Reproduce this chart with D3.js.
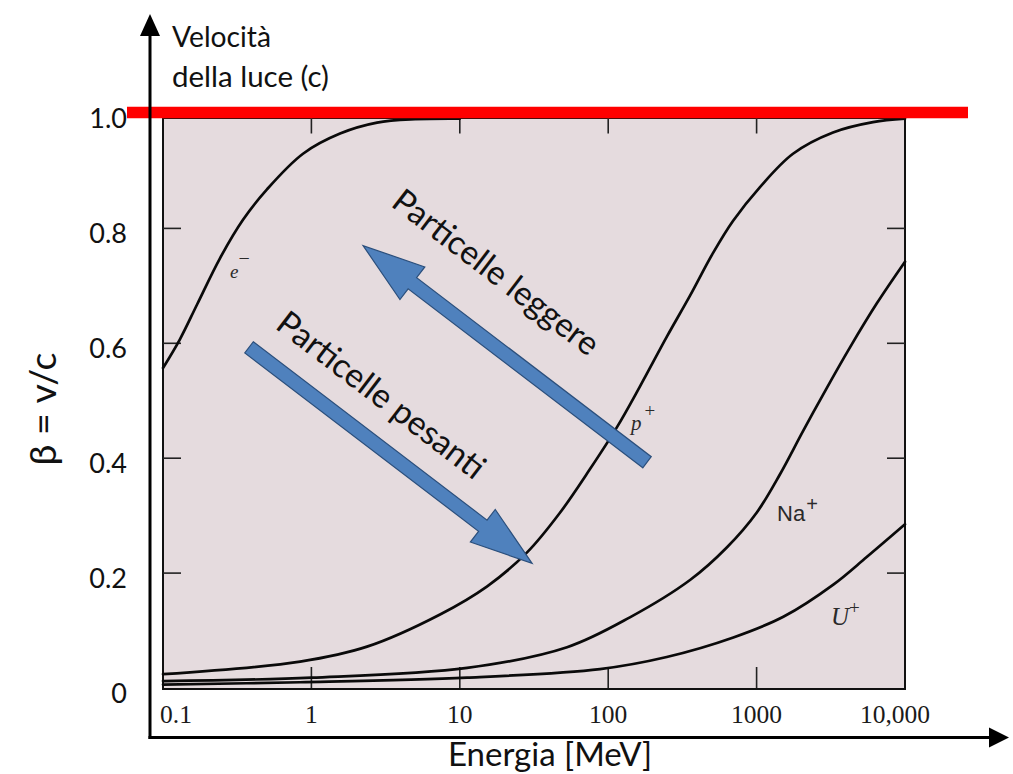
<!DOCTYPE html>
<html><head><meta charset="utf-8">
<script src="https://cdn.jsdelivr.net/npm/d3@7"></script>
<style>html,body{margin:0;padding:0;background:#fff;}svg{display:block;}</style>
</head><body>
<svg id="chart" width="1013" height="774"></svg>
<script>
// ---- data (kinetic energy in MeV, beta = v/c) ----
const eEnergy  = [0.1, 0.13, 0.17, 0.242, 0.346, 0.502, 0.878, 1.56, 2.77, 5, 10];
const eBeta    = [0.557, 0.607, 0.668, 0.748, 0.815, 0.868, 0.930, 0.965, 0.984, 0.990, 0.991];
const pEnergy  = [0.1, 0.84, 2.37, 7.36, 15.3, 28.4, 47.3, 75.4, 114.6, 163.8, 249, 356, 508, 693, 1054, 1759, 3273, 6087, 10000];
const pBeta    = [0.024, 0.046, 0.072, 0.128, 0.177, 0.236, 0.305, 0.381, 0.454, 0.525, 0.612, 0.683, 0.757, 0.813, 0.872, 0.930, 0.967, 0.985, 0.991];
const naEnergy = [0.1, 1, 11.2, 52.8, 140, 356, 632, 1006, 1438, 2055, 2982, 4260, 6477, 10000];
const naBeta   = [0.012, 0.018, 0.035, 0.071, 0.123, 0.188, 0.245, 0.306, 0.372, 0.447, 0.523, 0.593, 0.670, 0.742];
const uEnergy  = [0.1, 0.84, 11.2, 88, 248, 697, 1514, 3289, 5520, 10000];
const uBeta    = [0.006, 0.010, 0.018, 0.033, 0.054, 0.088, 0.124, 0.180, 0.228, 0.285];

const xTickValues = [0.1, 1, 10, 100, 1000, 10000];
const xTickLabels = ["0.1", "1", "10", "100", "1000", "10,000"];
const yTickValues = [0, 0.2, 0.4, 0.6, 0.8, 1.0];
const yTickLabels = ["0", "0.2", "0.4", "0.6", "0.8", "1.0"];
const innerXTicks = [1, 10, 100, 1000];
const innerYTicks = [0.2, 0.4, 0.6, 0.8];

const curveNames = ["e", "p", "Na", "U"];
// annotation arrows in data space: [E, beta] of tail and tip
const arrowLight = [[182.6, 0.393], [2.23, 0.770]];
const arrowHeavy = [[0.38, 0.593], [30.7, 0.217]];

// ---- scales ----
const svg = d3.select("#chart");
const x = d3.scaleLog().domain([0.1, 10000]).range([163, 905]);
const y = d3.scaleLinear().domain([0, 1]).range([688, 113.5]);

const SANS = "Lato, 'Open Sans', sans-serif";
const SERIF = "'Liberation Serif', 'DejaVu Serif', serif";

function fit(sel, w) {
  const l = sel.node().getComputedTextLength();
  const fs = parseFloat(sel.attr("font-size"));
  sel.attr("font-size", (fs * w / l).toFixed(2));
  return sel;
}

// ---- plot background / frame ----
svg.append("rect")
  .attr("x", x(0.1)).attr("y", y(1) + 4.5)
  .attr("width", x(10000) - x(0.1)).attr("height", y(0) + 1 - (y(1) + 4.5))
  .attr("fill", "#e5dbde").attr("stroke", "#111").attr("stroke-width", 2);

const inner = svg.append("g").attr("stroke", "#222").attr("stroke-width", 1.6);
innerYTicks.forEach(v => {
  inner.append("line").attr("x1", x(0.1)).attr("x2", x(0.1) + 18).attr("y1", y(v)).attr("y2", y(v));
  inner.append("line").attr("x1", x(10000)).attr("x2", x(10000) - 18).attr("y1", y(v)).attr("y2", y(v));
});
innerXTicks.forEach(v => {
  inner.append("line").attr("x1", x(v)).attr("x2", x(v)).attr("y1", y(0)).attr("y2", y(0) - 21);
  inner.append("line").attr("x1", x(v)).attr("x2", x(v)).attr("y1", y(1)).attr("y2", y(1) + 20);
});

// ---- curves ----
const line = d3.line().x(d => x(d[0])).y(d => y(d[1])).curve(d3.curveCatmullRom.alpha(0.5));
const series = [
  d3.zip(eEnergy, eBeta), d3.zip(pEnergy, pBeta), d3.zip(naEnergy, naBeta), d3.zip(uEnergy, uBeta)
];
svg.append("g").selectAll("path").data(series).join("path")
  .attr("d", line).attr("fill", "none").attr("stroke", "#0a0a0a")
  .attr("stroke-width", 2.7).attr("stroke-linejoin", "round").attr("stroke-linecap", "round");

// ---- curve labels ----
const lab = svg.append("g").attr("fill", "#2a2a2a");
const eL = lab.append("text").attr("x", 230).attr("y", 278).attr("font-family", SERIF).attr("font-style", "italic").attr("font-size", 19).text("e");
eL.append("tspan").attr("dy", -13).attr("font-size", 20).attr("font-style", "normal").text("\u2212");
const pL = lab.append("text").attr("x", 631).attr("y", 430).attr("font-family", SERIF).attr("font-style", "italic").attr("font-size", 21).text("p");
pL.append("tspan").attr("dx", 3).attr("dy", -13).attr("font-size", 19).attr("font-style", "normal").text("+");
const naL = lab.append("text").attr("x", 777).attr("y", 521).attr("font-family", "'Liberation Sans', Arial, sans-serif").attr("font-size", 22).text("Na");
naL.append("tspan").attr("dx", 1).attr("dy", -10).attr("font-size", 20).text("+");
const uL = lab.append("text").attr("x", 831).attr("y", 625).attr("font-family", SERIF).attr("font-style", "italic").attr("font-size", 25).text("U");
uL.append("tspan").attr("dy", -11).attr("font-size", 19).attr("font-style", "normal").text("+");

// ---- inner x tick labels ----
svg.append("g").selectAll("text").data(xTickValues).join("text")
  .attr("x", (d, i) => i === 0 ? x(d) - 3 : (i === xTickValues.length - 1 ? x(d) + 25 : x(d)))
  .attr("text-anchor", (d, i) => i === 0 ? "start" : (i === xTickValues.length - 1 ? "end" : "middle"))
  .attr("y", 723).attr("font-family", SERIF).attr("font-size", 25.5).attr("fill", "#1a1a1a")
  .text((d, i) => xTickLabels[i]);

// ---- y tick labels ----
svg.append("g").selectAll("text").data(yTickValues).join("text")
  .attr("x", 127).attr("y", d => y(d) + 4).attr("dominant-baseline", "central")
  .attr("text-anchor", "end").attr("font-family", SANS).attr("font-size", 27).attr("fill", "#111")
  .text((d, i) => yTickLabels[i]);

// ---- annotation arrows ----
function blockArrow(g, tail, tip, shaftW, headW, headL) {
  const x0 = x(tail[0]), y0 = y(tail[1]), x1 = x(tip[0]), y1 = y(tip[1]);
  const len = Math.hypot(x1 - x0, y1 - y0);
  const ang = Math.atan2(y1 - y0, x1 - x0) * 180 / Math.PI;
  const s = shaftW / 2, h = headW / 2, b = len - headL;
  const pts = [[0, -s], [b, -s], [b, -h], [len, 0], [b, h], [b, s], [0, s]];
  g.append("path")
    .attr("d", "M" + pts.map(p => p.join(",")).join("L") + "Z")
    .attr("transform", `translate(${x0},${y0}) rotate(${ang})`)
    .attr("fill", "#4f81bd").attr("stroke", "#2b4f7c").attr("stroke-width", 1.2);
}
const arr = svg.append("g");
blockArrow(arr, arrowLight[0], arrowLight[1], 14, 41, 62);
blockArrow(arr, arrowHeavy[0], arrowHeavy[1], 14, 41, 62);

const rot = 37.4;
const t1 = svg.append("text").attr("transform", `translate(497,271) rotate(${rot})`)
  .attr("text-anchor", "middle").attr("dominant-baseline", "central")
  .attr("font-family", SANS).attr("font-size", 30).attr("fill", "#111").text("Particelle leggere");
fit(t1, 250);
const t2 = svg.append("text").attr("transform", `translate(382,394) rotate(${rot})`)
  .attr("text-anchor", "middle").attr("dominant-baseline", "central")
  .attr("font-family", SANS).attr("font-size", 30).attr("fill", "#111").text("Particelle pesanti");
fit(t2, 252);

// ---- speed of light line ----
svg.append("line").attr("x1", 127).attr("x2", 968).attr("y1", y(1) - 1).attr("y2", y(1) - 1)
  .attr("stroke", "#ff0000").attr("stroke-width", 11.5);

// ---- outer axes with arrowheads ----
const ax = svg.append("g");
ax.append("line").attr("x1", 150).attr("x2", 150).attr("y1", 739).attr("y2", 30).attr("stroke", "#000").attr("stroke-width", 3);
ax.append("path").attr("d", "M150,14L160,36L140,36Z").attr("fill", "#000");
ax.append("line").attr("x1", 148.5).attr("x2", 992).attr("y1", 737.5).attr("y2", 737.5).attr("stroke", "#000").attr("stroke-width", 3);
ax.append("path").attr("d", "M1009,737.5L989,727.5L989,747.5Z").attr("fill", "#000");

// ---- titles ----
const tv = svg.append("text").attr("x", 172).attr("y", 47).attr("font-family", SANS).attr("font-size", 26).attr("fill", "#111").text("Velocità");
fit(tv, 99);
const td = svg.append("text").attr("x", 172).attr("y", 87).attr("font-family", SANS).attr("font-size", 26).attr("fill", "#111").text("della luce (c)");
fit(td, 157);
const tx = svg.append("text").attr("x", 448).attr("y", 766).attr("font-family", SANS).attr("font-size", 30).attr("fill", "#111").text("Energia [MeV]");
fit(tx, 204);
const ty = svg.append("text").attr("transform", "translate(56,409) rotate(-90)").attr("text-anchor", "middle")
  .attr("font-family", SANS).attr("font-size", 40).attr("fill", "#111").text("β = v/c");
fit(ty, 113);
</script>
</body></html>
